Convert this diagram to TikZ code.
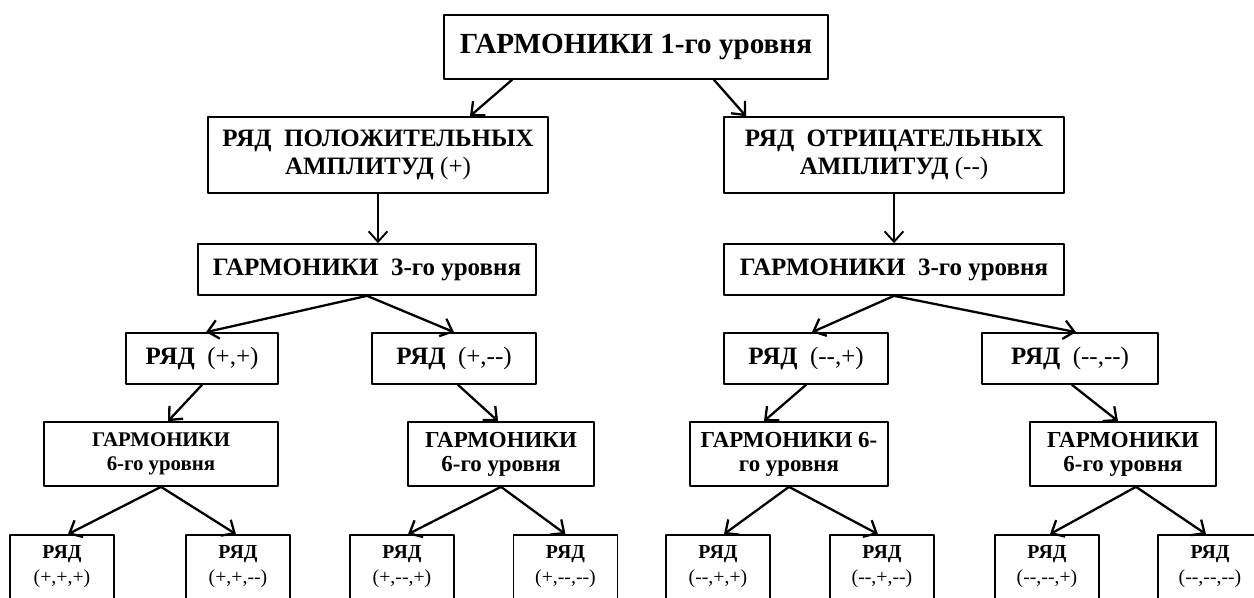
\documentclass[tikz,border=0pt]{standalone}
\usepackage{fontspec}
\setmainfont{Liberation Serif}
\usetikzlibrary{arrows.meta,calc,positioning}
\newcommand{\mns}{-\kern0pt-}

\begin{document}
\begin{tikzpicture}[x=0.48pt,y=-0.48pt,line cap=round,line join=round,
  box/.style={draw,line width=0.8pt,align=center,inner sep=0pt,font=\bfseries},
  wh/.style 2 args={minimum width=#1*0.48pt,minimum height=#2*0.48pt},
  arr/.style={line width=1.1pt,-{Straight Barb[length=5pt,width=9pt]}}]
 \clip (0,0) rectangle (1254,597);
 % Pierwszy poziom.
 \node[box,wh={384}{64},font=\bfseries\fontsize{14}{17}\selectfont] (top) at (636,47)
  {\raisebox{2.4pt}{ГАРМОНИКИ 1-го уровня}};
 \node[box,wh={340}{76},font=\bfseries\fontsize{12}{13.5}\selectfont] (pos) at (378,155)
  {РЯД\ \ ПОЛОЖИТЕЛЬНЫХ\\АМПЛИТУД \textmd{(+)}};
 \node[box,wh={340}{76},font=\bfseries\fontsize{12}{13.5}\selectfont] (neg) at (894,155)
  {РЯД\ \ ОТРИЦАТЕЛЬНЫХ\\АМПЛИТУД \textmd{(\mns)}};
 % Trzeci poziom.
 \node[box,wh={338}{51},font=\bfseries\fontsize{12}{14}\selectfont] (g3l) at (367,269.5)
  {ГАРМОНИКИ\ \ 3-го уровня};
 \node[box,wh={340}{51},font=\bfseries\fontsize{12}{14}\selectfont] (g3r) at (894,269.5)
  {ГАРМОНИКИ\ \ 3-го уровня};
 \node[box,wh={152}{51},font=\bfseries\fontsize{12}{14}\selectfont] (r1) at (202,358.5)
  {РЯД\ \ \textmd{(+,+)}};
 \node[box,wh={164}{51},font=\bfseries\fontsize{12}{14}\selectfont] (r2) at (454,358.5)
  {РЯД\ \ \textmd{(+,\mns)}};
 \node[box,wh={164}{51},font=\bfseries\fontsize{12}{14}\selectfont] (r3) at (806,358.5)
  {РЯД\ \ \textmd{(\mns,+)}};
 \node[box,wh={176}{51},font=\bfseries\fontsize{12}{14}\selectfont] (r4) at (1070,358.5)
  {РЯД\ \ \textmd{(\mns,\mns)}};
 % Szosty poziom.
 \node[box,wh={234}{64},font=\bfseries\fontsize{10}{11.5}\selectfont] (g6a) at (161,454)
  {ГАРМОНИКИ\\6-го уровня};
 \node[box,wh={186}{64},font=\bfseries\fontsize{11}{11.5}\selectfont] (g6b) at (501,454)
  {ГАРМОНИКИ\\6-го уровня};
 \node[box,wh={198}{64},font=\bfseries\fontsize{11}{11.5}\selectfont] (g6c) at (789,454)
  {ГАРМОНИКИ 6-\\го уровня};
 \node[box,wh={186}{64},font=\bfseries\fontsize{11}{11.5}\selectfont] (g6d) at (1123,454)
  {ГАРМОНИКИ\\6-го уровня};
 % Dolny rzad.
 \foreach \n/\cx/\lab in {b1/62/{+,+,+},b2/238/{+,+,\mns},b3/402/{+,\mns,+},
   b4/565.5/{+,\mns,\mns},b5/718/{\mns,+,+},b6/882/{\mns,+,\mns},
   b7/1047/{\mns,\mns,+},b8/1210/{\mns,\mns,\mns}}
  \node[box,wh={104}{64},font=\fontsize{9.5}{12}\selectfont] (\n) at (\cx,567)
   {\textbf{РЯД}\\(\lab)};
 % Strzalki.
 \draw[arr] ($(top.south)+(-124,0)$) -- ($(pos.north)+(92,0)$);
 \draw[arr] ($(top.south)+(78,0)$) -- ($(neg.north)+(-148,0)$);
 \draw[arr,line width=0.9pt] (pos.south) -- (pos.south |- g3l.north);
 \draw[arr,line width=0.9pt] (neg.south) -- (neg.south |- g3r.north);
 \draw[arr] (g3l.south) -- ($(r1.north)+(4,0)$);
 \draw[arr] (g3l.south) -- (r2.north);
 \draw[arr] (g3r.south) -- ($(r3.north)+(6,0)$);
 \draw[arr] (g3r.south) -- ($(r4.north)+(6,0)$);
 \draw[arr] (r1.south) -- ($(g6a.north)+(7,0)$);
 \draw[arr] ($(r2.south)+(4,0)$) -- ($(g6b.north)+(-3,0)$);
 \draw[arr] (r3.south) -- ($(g6c.north)+(-25,0)$);
 \draw[arr] ($(r4.south)+(2,0)$) -- ($(g6d.north)+(-5,0)$);
 \draw[arr] (g6a.south) -- ($(b1.north)+(6,0)$);
 \draw[arr] (g6a.south) -- ($(b2.north)+(-2,0)$);
 \draw[arr] (g6b.south) -- ($(b3.north)+(6,0)$);
 \draw[arr] (g6b.south) -- (b4.north);
 \draw[arr] (g6c.south) -- ($(b5.north)+(6,0)$);
 \draw[arr] (g6c.south) -- ($(b6.north)+(-4,0)$);
 \draw[arr] ($(g6d.south)+(13,0)$) -- ($(b7.north)+(3,0)$);
 \draw[arr] ($(g6d.south)+(13,0)$) -- ($(b8.north)+(-4,0)$);
\end{tikzpicture}
\end{document}
